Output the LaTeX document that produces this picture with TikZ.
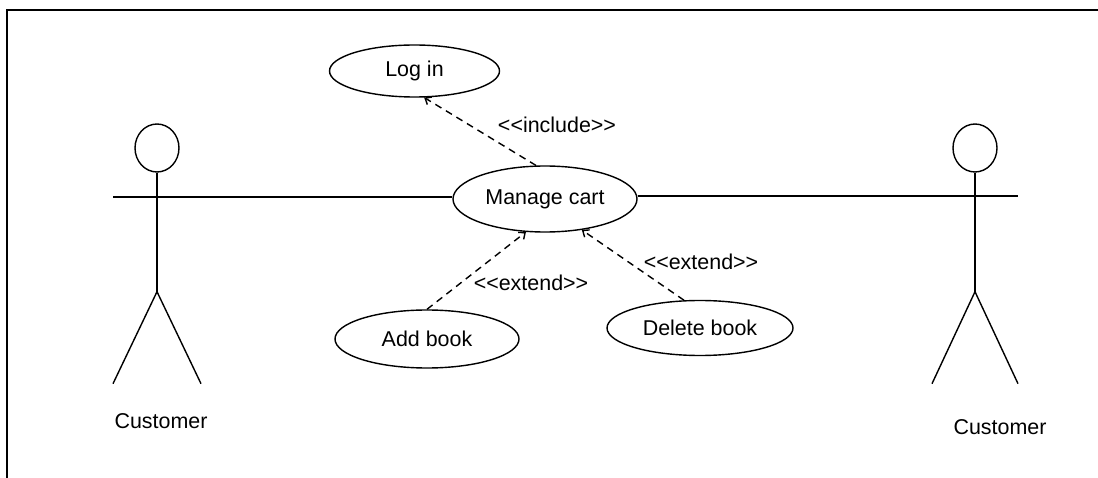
\documentclass[tikz,border=0pt]{standalone}
\usepackage{fontspec}
\newfontfamily\umlfont{Liberation Sans}
\usetikzlibrary{arrows.meta,positioning,shapes.geometric}

\begin{document}
\begin{tikzpicture}[
  usecase/.style={ellipse, draw, line width=0.8pt, inner sep=0pt,
                  minimum width=3.68cm, minimum height=1.16cm,
                  font=\umlfont\fontsize{12.2}{14}\selectfont},
  head/.style={ellipse, draw, line width=0.8pt, inner sep=0pt,
               minimum width=0.88cm, minimum height=0.96cm},
  txt/.style={font=\umlfont\fontsize{12.2}{14}\selectfont, inner sep=1pt},
  assoc/.style={line width=0.8pt},
  dep/.style={line width=0.8pt, dash pattern=on 4pt off 3pt,
              -{Straight Barb[length=3pt,width=5pt]}}
]
\useasboundingbox (0,0) rectangle (21.96,-9.56);
% Frame
\draw[line width=1.2pt] (0.14,-9.56) -- (0.14,-0.2) -- (21.96,-0.2);

% Use cases
\node[usecase, minimum width=3.4cm, minimum height=1.04cm] (login) at (8.29,-1.42) {Log in};
\node[usecase, minimum height=1.32cm] (cart)    at (10.9,-3.98) {Manage cart};
\node[usecase]                        (addbook) at (8.54,-6.78) {Add book};
\node[usecase, minimum width=3.72cm, minimum height=1.1cm] (delbook) at (14.0,-6.56) {Delete book};

% Left actor
\node[head] (headL) at (3.14,-2.96) {};
\draw[assoc] (headL.south) -- ++(0,-2.38) coordinate (hipL);
\draw[assoc] (hipL) -- ++(-0.88,-1.84) (hipL) -- ++(0.88,-1.84);
\coordinate (handL) at (2.26,-3.94);
\node[txt] (custL) at (3.22,-8.42) {Customer};

% Right actor
\node[head] (headR) at (19.5,-2.96) {};
\draw[assoc] (headR.south) -- ++(0,-2.38) coordinate (hipR);
\draw[assoc] (hipR) -- ++(-0.86,-1.84) (hipR) -- ++(0.86,-1.84);
\coordinate (handR) at (20.36,-3.92);
\node[txt] (custR) at (20.0,-8.54) {Customer};

% Associations
\draw[assoc] (handL) -- (handL -| cart.west);
\draw[assoc] (handR -| cart.east) -- (handR);

% Include / extend
\draw[dep] (cart.105) -- (login.-70);
\draw[dep] (addbook.north) -- (cart.-120);
\draw[dep] (delbook.120) -- (cart.-40);

\node[txt] (inclbl)  at (11.14,-2.5)  {<<include>>};
\node[txt] (extlbl1) at (10.62,-5.66) {<<extend>>};
\node[txt] (extlbl2) at (14.02,-5.24) {<<extend>>};
\end{tikzpicture}
\end{document}
